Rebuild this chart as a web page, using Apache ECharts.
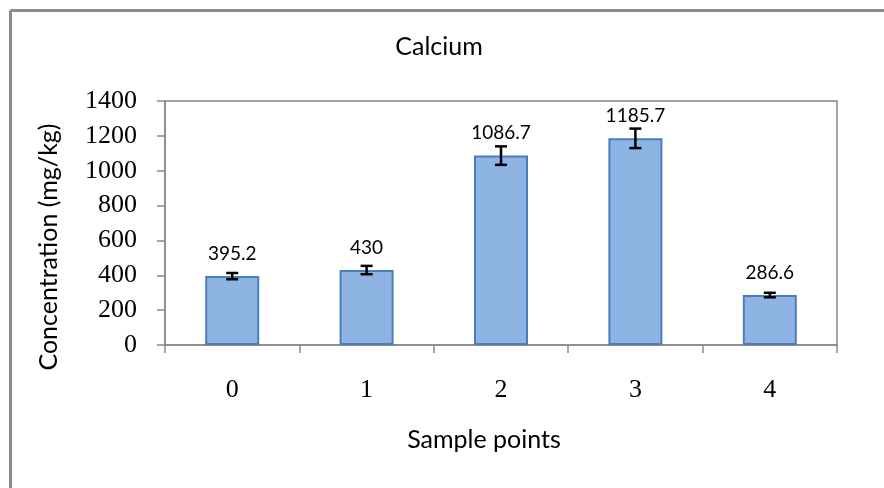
<!DOCTYPE html>
<html>
<head>
<meta charset="utf-8">
<script src="https://cdn.jsdelivr.net/npm/echarts@6/dist/echarts.min.js"></script>
<style>
html,body{margin:0;padding:0;background:#fff;}
#chart{width:884px;height:488px;}
</style>
</head>
<body>
<div id="chart"></div>
<script>
const categories = ['0', '1', '2', '3', '4'];
const values = [395.2, 430, 1086.7, 1185.7, 286.6];
const errors = [18, 24, 53, 56, 13];
const yTicks = [0, 200, 400, 600, 800, 1000, 1200, 1400];
const titleText = 'Calcium';
const xTitle = 'Sample points';
const yTitle = 'Concentration (mg/kg)';

const sans = 'Lato, "Open Sans", sans-serif';
const serif = '"Liberation Serif", "DejaVu Serif", serif';
const gray = '#888888';

const errData = values.map((v, i) => [i, v - errors[i], v + errors[i]]);

const chart = echarts.init(document.getElementById('chart'), null, {renderer: 'canvas'});
chart.setOption({
  animation: false,
  backgroundColor: '#ffffff',
  grid: {left: 165, top: 101, right: 47, bottom: 143, show: true, borderColor: gray, borderWidth: 1.5, backgroundColor: 'transparent'},
  xAxis: {
    type: 'category',
    data: categories,
    axisLine: {lineStyle: {color: gray, width: 1.5}},
    axisTick: {show: true, length: 8, lineStyle: {color: gray, width: 1.5}},
    axisLabel: {fontFamily: serif, fontSize: 26, color: '#000', margin: 32}
  },
  yAxis: {
    type: 'value',
    min: 0, max: 1400, interval: 200,
    axisLine: {show: true, lineStyle: {color: gray, width: 1.5}},
    axisTick: {show: true, length: 8, lineStyle: {color: gray, width: 1.5}},
    splitLine: {show: false},
    axisLabel: {fontFamily: serif, fontSize: 26, color: '#000', margin: 28,
      formatter: v => yTicks.includes(v) ? String(v) : ''}
  },
  series: [
    {
      type: 'bar',
      data: values,
      barWidth: 54,
      itemStyle: {color: '#8EB4E3', borderColor: '#4A7EBB', borderWidth: 2},
      label: {show: true, position: 'top', distance: 13, fontFamily: sans, fontSize: 19, color: '#000'},
      z: 2
    },
    {
      type: 'custom',
      data: errData,
      z: 5,
      renderItem: function (params, api) {
        const x = api.value(0);
        const lo = api.coord([x, api.value(1)]);
        const hi = api.coord([x, api.value(2)]);
        const cw = 6;
        const st = {stroke: '#000', lineWidth: 2.5};
        return {
          type: 'group',
          children: [
            {type: 'line', shape: {x1: lo[0], y1: lo[1], x2: hi[0], y2: hi[1]}, style: st},
            {type: 'line', shape: {x1: lo[0] - cw, y1: lo[1], x2: lo[0] + cw, y2: lo[1]}, style: st},
            {type: 'line', shape: {x1: hi[0] - cw, y1: hi[1], x2: hi[0] + cw, y2: hi[1]}, style: st}
          ]
        };
      }
    }
  ],
  graphic: [
    {type: 'line', shape: {x1: 10.5, y1: 10.5, x2: 884, y2: 10.5}, style: {stroke: '#8c8c8c', lineWidth: 3}},
    {type: 'line', shape: {x1: 10.5, y1: 10.5, x2: 10.5, y2: 488}, style: {stroke: '#8c8c8c', lineWidth: 3}},
    {type: 'text', x: 439, y: 47, style: {text: titleText, font: '25px ' + sans, fill: '#000', textAlign: 'center', textVerticalAlign: 'middle'}},
    {type: 'text', x: 484, y: 440, style: {text: xTitle, font: '25px ' + sans, fill: '#000', textAlign: 'center', textVerticalAlign: 'middle'}},
    {type: 'text', x: 49, y: 247, rotation: Math.PI / 2, style: {text: yTitle, font: '25px ' + sans, fill: '#000', textAlign: 'center', textVerticalAlign: 'middle'}}
  ]
});
</script>
</body>
</html>
